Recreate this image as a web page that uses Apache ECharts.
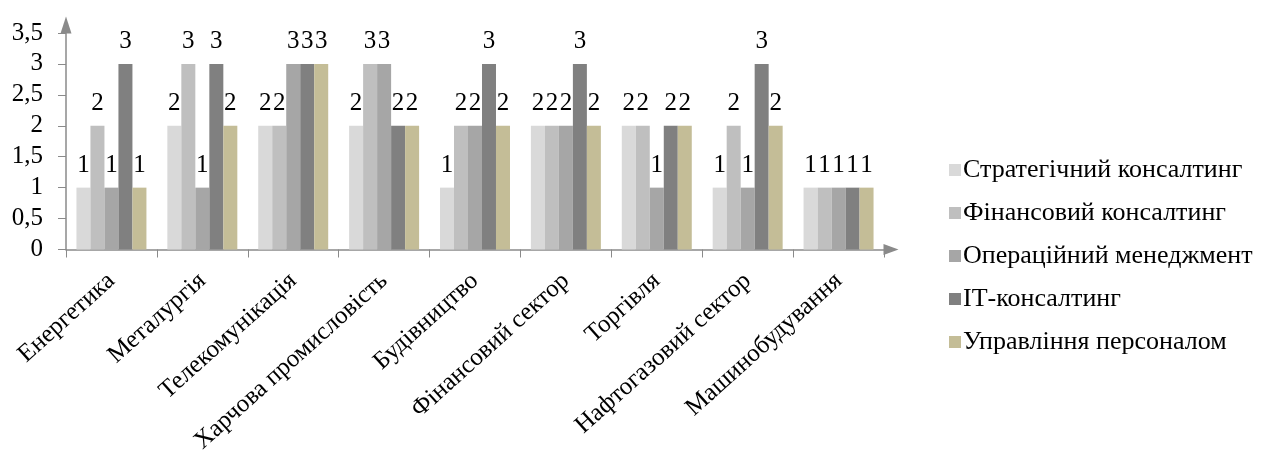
<!DOCTYPE html>
<html>
<head>
<meta charset="utf-8">
<script src="https://cdn.jsdelivr.net/npm/echarts@6/dist/echarts.min.js"></script>
<style>
  html, body { margin: 0; padding: 0; background: #fff; }
  #chart { width: 1262px; height: 457px; }
</style>
</head>
<body>
<div id="chart"></div>
<script>
// Sectors on the category axis
const categories = [
  'Енергетика', 'Металургія', 'Телекомунікація', 'Харчова промисловість',
  'Будівництво', 'Фінансовий сектор', 'Торгівля', 'Нафтогазовий сектор',
  'Машинобудування'
];

// Scores per consulting direction, one value per sector
const seriesNames = [
  'Стратегічний консалтинг', 'Фінансовий консалтинг', 'Операційний менеджмент',
  'ІТ-консалтинг', 'Управління персоналом'
];
const strategic  = [1, 2, 2, 2, 1, 2, 2, 1, 1];
const financial  = [2, 3, 2, 3, 2, 2, 2, 2, 1];
const operations = [1, 1, 3, 3, 2, 2, 1, 1, 1];
const itConsult  = [3, 3, 3, 2, 3, 3, 2, 3, 1];
const personnel  = [1, 2, 3, 2, 2, 2, 2, 2, 1];

// Value axis ticks
const yTicks = [0, 0.5, 1, 1.5, 2, 2.5, 3, 3.5];

const seriesValues = [strategic, financial, operations, itConsult, personnel];
const colors = ['#d9d9d9', '#bfbfbf', '#a6a6a6', '#808080', '#c4bd97'];
const FONT = "'Liberation Serif', 'Times New Roman', serif";
const AXIS_COLOR = '#8a8a8a';

const chart = echarts.init(document.getElementById('chart'), null, { renderer: 'canvas' });

chart.setOption({
  animation: false,
  color: colors,
  textStyle: { fontFamily: FONT, color: '#000' },
  grid: { left: 66, right: 378, top: 33, bottom: 207.5, containLabel: false },
  legend: {
    orient: 'vertical',
    left: 944,
    top: 152,
    itemWidth: 12,
    itemHeight: 12,
    itemGap: 17,
    icon: 'rect',
    textStyle: {
      fontFamily: FONT, fontSize: 26, lineHeight: 26, color: '#000',
      padding: [0, 0, 0, -3]
    },
    data: seriesNames
  },
  xAxis: {
    type: 'category',
    data: categories,
    boundaryGap: true,
    axisLine: {
      lineStyle: { color: AXIS_COLOR, width: 1.5 },
      symbol: ['none', 'triangle'],
      symbolSize: [11, 15],
      symbolOffset: [0, 7]
    },
    axisTick: { show: true, length: 8, lineStyle: { color: AXIS_COLOR }, alignWithLabel: false },
    axisLabel: {
      interval: 0,
      rotate: 42,
      margin: 28,
      fontFamily: FONT,
      fontSize: 25,
      color: '#000'
    },
    splitLine: { show: false }
  },
  yAxis: {
    type: 'value',
    min: 0,
    max: 3.5,
    interval: 0.5,
    axisLine: {
      show: true,
      lineStyle: { color: AXIS_COLOR, width: 1.5 },
      symbol: ['none', 'triangle'],
      symbolSize: [11, 17],
      symbolOffset: [0, 8]
    },
    axisTick: { show: true, length: 8, lineStyle: { color: AXIS_COLOR } },
    axisLabel: {
      margin: 23,
      fontFamily: FONT,
      fontSize: 25,
      color: '#000',
      customValues: yTicks,
      formatter: v => String(v).replace('.', ',')
    },
    splitLine: { show: false }
  },
  series: seriesNames.map((name, i) => ({
    name,
    type: 'bar',
    data: seriesValues[i],
    barGap: '0%',
    barCategoryGap: '23%',
    itemStyle: { color: colors[i] },
    label: {
      show: true,
      position: 'top',
      distance: 10,
      fontFamily: FONT,
      fontSize: 25,
      color: '#000'
    }
  }))
});
</script>
</body>
</html>
